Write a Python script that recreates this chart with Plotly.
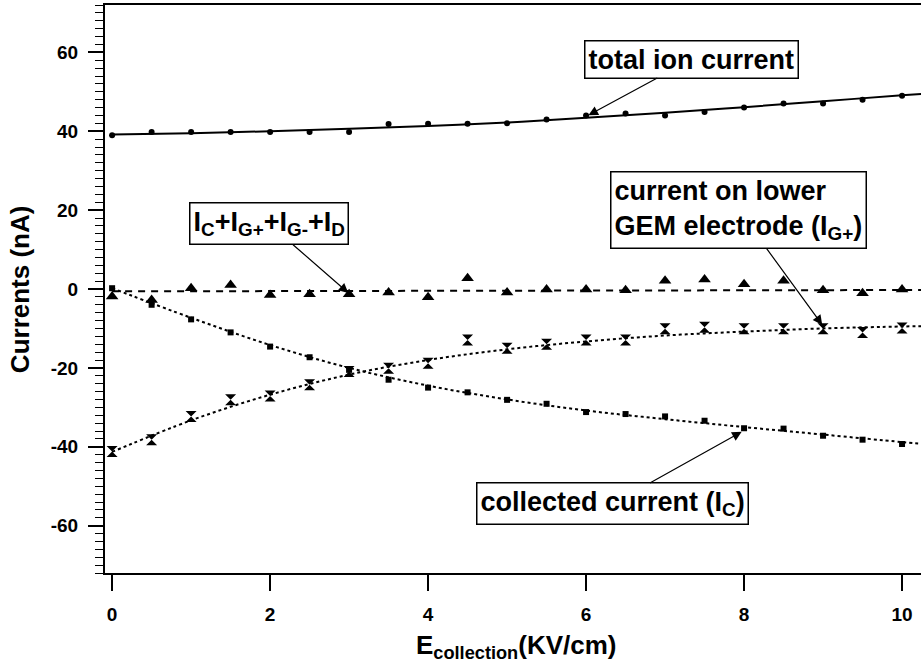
import plotly.graph_objects as go

# ---- data ----
x_pts = [0, 0.5, 1, 1.5, 2, 2.5, 3, 3.5, 4, 4.5, 5, 5.5, 6, 6.5, 7, 7.5, 8, 8.5, 9, 9.5, 10]

total_ion = [39.0, 39.8, 39.8, 39.8, 39.8, 39.8, 39.8, 41.8, 41.9, 41.9, 42.0,
             43.0, 44.0, 44.5, 44.0, 44.9, 46.0, 47.0, 47.0, 48.0, 49.0]
sum_cur = [-1.9, -2.8, 0.2, 1.0, -1.5, -1.3, -1.3, -0.9, -2.1, 2.7, -0.9,
           -0.1, -0.1, -0.3, 2.1, 2.4, 1.2, 2.1, -0.3, -1.1, -0.1]
i_gplus = [-41.2, -38.2, -32.3, -28.1, -27.1, -24.3, -20.9, -20.1, -18.8, -12.9, -15.0,
           -14.0, -12.9, -12.9, -10.1, -9.7, -10.1, -10.1, -10.1, -11.0, -9.9]
i_c = [0.2, -4.0, -7.7, -11.0, -14.6, -17.3, -20.5, -23.0, -25.0, -26.2, -28.1,
       -29.1, -31.2, -31.7, -32.3, -33.4, -35.3, -35.4, -37.2, -38.2, -39.3]

# fitted curves
fit_x = [0, 1, 2, 3, 4, 5, 6, 7, 8, 9, 10, 10.3]
total_fit = [39.2, 39.5, 40.0, 40.6, 41.3, 42.2, 43.4, 44.7, 46.1, 47.6, 49.1, 49.5]
sum_fit = [-0.6, -0.55, -0.5, -0.5, -0.45, -0.4, -0.4, -0.35, -0.3, -0.3, -0.25, -0.25]
i_c_fit = [0.2, -7.3, -14.2, -20.0, -24.5, -28.0, -30.8, -33.0, -35.0, -36.9, -38.8, -39.3]
i_g_fit = [-41.3, -33.3, -26.8, -21.7, -18.0, -15.3, -13.3, -11.8, -10.8, -10.0, -9.5, -9.4]

x_ticks = [0, 2, 4, 6, 8, 10]
y_ticks = [-60, -40, -20, 0, 20, 40, 60]

FONT = "Liberation Sans, Arial, Helvetica, sans-serif"

fig = go.Figure()

# fit lines
fig.add_trace(go.Scatter(x=fit_x, y=total_fit, mode="lines", line=dict(color="black", width=2, shape="spline")))
fig.add_trace(go.Scatter(x=fit_x, y=sum_fit, mode="lines", line=dict(color="black", width=2, dash="7px,6px")))
fig.add_trace(go.Scatter(x=fit_x, y=i_c_fit, mode="lines", line=dict(color="black", width=2, dash="3px,3px", shape="spline")))
fig.add_trace(go.Scatter(x=fit_x, y=i_g_fit, mode="lines", line=dict(color="black", width=2, dash="3px,3px", shape="spline")))

# markers
fig.add_trace(go.Scatter(x=x_pts, y=total_ion, mode="markers",
                         marker=dict(symbol="circle", size=6, color="black")))
fig.add_trace(go.Scatter(x=x_pts, y=sum_cur, mode="markers",
                         marker=dict(symbol="triangle-up", size=11, color="black")))
fig.add_trace(go.Scatter(x=x_pts, y=i_gplus, mode="markers",
                         marker=dict(symbol="hourglass", size=11, color="black")))
fig.add_trace(go.Scatter(x=x_pts, y=i_c, mode="markers",
                         marker=dict(symbol="square", size=6, color="black")))

ann_font = dict(family=FONT, size=27, color="black")

def callout(text, x, y, ax, ay, align="center"):
    fig.add_annotation(x=x, y=y, xref="x", yref="y", text="<b>" + text + "</b>",
                       showarrow=True, ax=ax, ay=ay,
                       arrowhead=2, arrowsize=1.6, arrowwidth=1.2, arrowcolor="black",
                       font=ann_font, bordercolor="black", borderwidth=1.5, borderpad=3,
                       bgcolor="white", align=align)

callout("total ion current", 6.03, 44.05, 103.5, -56)
callout("I<sub>C</sub>+I<sub>G+</sub>+I<sub>G-</sub>+I<sub>D</sub>", 2.99, -1.0, -79, -69)
callout("current on lower<br>GEM electrode (I<sub>G+</sub>)", 8.99, -9.1, -83.5, -114.5, align="left")
callout("collected current (I<sub>C</sub>)", 7.97, -36.2, -129, 72)

# axis titles
fig.add_annotation(xref="paper", yref="paper", x=-0.104, y=0.5, text="<b>Currents (nA)</b>",
                   textangle=-90, showarrow=False, xanchor="center", yanchor="middle",
                   font=dict(family=FONT, size=26, color="black"))
fig.add_annotation(xref="paper", yref="paper", x=0.5037, y=-0.097, text="<b>E<sub>collection</sub>(KV/cm)</b>",
                   showarrow=False, xanchor="center", yanchor="top",
                   font=dict(family=FONT, size=26, color="black"))

fig.update_layout(
    width=921, height=666,
    margin=dict(l=105, r=0, t=5, b=93),
    paper_bgcolor="white", plot_bgcolor="white",
    showlegend=False,
    font=dict(family=FONT, color="black"),
)
fig.update_xaxes(range=[-0.09, 10.24], tickvals=x_ticks,
                 ticktext=["<b>%d</b>" % v for v in x_ticks],
                 ticks="outside", ticklen=16, tickwidth=1.5, tickcolor="black",
                 showline=True, linecolor="black", linewidth=2, mirror=True,
                 showgrid=False, zeroline=False,
                 tickfont=dict(family=FONT, size=19, color="black"),
                 ticklabelstandoff=7)
fig.update_yaxes(range=[-72, 72], tickvals=y_ticks,
                 ticktext=["<b>%d</b>" % v for v in y_ticks],
                 ticks="outside", ticklen=15, tickwidth=1.5, tickcolor="black",
                 minor=dict(dtick=2, ticks="outside", ticklen=8, tickwidth=1.2, tickcolor="black"),
                 showline=True, linecolor="black", linewidth=2, mirror=False,
                 showgrid=False, zeroline=False,
                 tickfont=dict(family=FONT, size=19, color="black"),
                 ticklabelstandoff=6)

fig.write_html("out.html")
